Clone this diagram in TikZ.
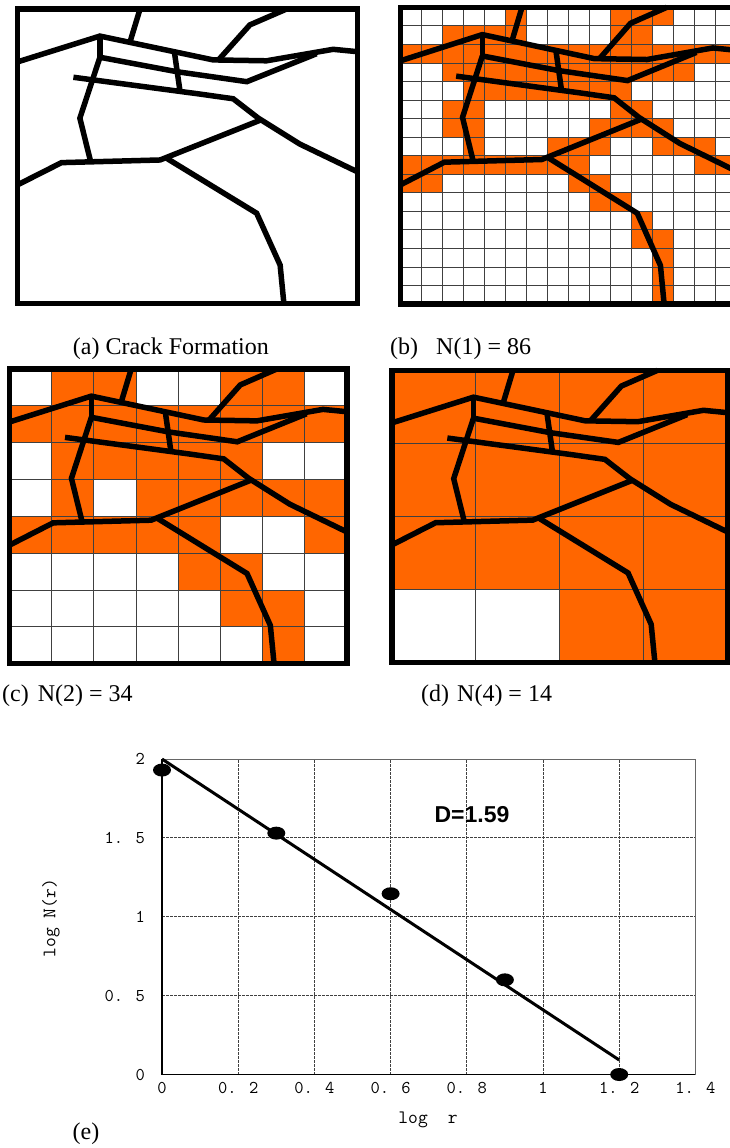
\documentclass[tikz,border=0pt]{standalone}
\usepackage{fontspec}
\setmainfont{Liberation Serif}
\newfontfamily\sansbold{Liberation Sans}
\definecolor{crackorange}{RGB}{255,102,0}
\tikzset{
  crack/.style={line width=5.5pt, line join=miter},
  panelframe/.style={line width=5.5pt},
  cell/.style={fill=crackorange},
  gridthin/.style={line width=0.8pt, draw=black!75},
  caption/.style={font=\fontsize{24}{28}\selectfont, inner sep=0pt, anchor=base west},
  ticklab/.style={font=\ttfamily\fontsize{18}{20}\selectfont, inner sep=0pt},
  axislab/.style={font=\ttfamily\fontsize{19}{21}\selectfont, inner sep=0pt},
  plotgrid/.style={dash pattern=on 2.5pt off 1.5pt, line width=0.8pt, draw=black!75},
}
\newcommand{\drawcracks}{%
  \draw[crack] (0,0.18) -- (0.243,0.092) -- (0.576,0.173) -- (0.733,0.176) -- (0.929,0.137) -- (1,0.145);
  \draw[crack] (0.331,0.114) -- (0.361,0);
  \draw[crack] (0.591,0.174) -- (0.684,0.054) -- (0.792,0);
  \draw[crack] (0.243,0.092) -- (0.243,0.168);
  \draw[crack] (0.243,0.164) -- (0.469,0.213) -- (0.675,0.247) -- (0.88,0.152);
  \draw[crack] (0.462,0.146) -- (0.478,0.275);
  \draw[crack] (0.165,0.232) -- (0.537,0.289) -- (0.635,0.305) -- (0.709,0.371) -- (0.831,0.459) -- (1,0.553);
  \draw[crack] (0.243,0.164) -- (0.184,0.371) -- (0.216,0.52);
  \draw[crack] (0,0.598) -- (0.130,0.522) -- (0.42,0.513) -- (0.714,0.378);
  \draw[crack] (0.439,0.507) -- (0.704,0.694) -- (0.773,0.870) -- (0.784,1);
}
\begin{document}
\begin{tikzpicture}[x=1pt,y=-1pt]
\clip (0,0) rectangle (730,1148);
\fill[white] (0,0) rectangle (730,1148);

% ---------- panel (a)
\begin{scope}[xshift=17.3pt, yshift=-9pt, x=340pt, y=-294.3pt]
  \drawcracks
  \draw[panelframe] (0,0) rectangle (1,1);
\end{scope}

% ---------- panel (b)  16 x 16
\begin{scope}[xshift=400.7pt, yshift=-7.3pt, x=21pt, y=-18.544pt]
  \foreach \r/\cs in {0/{5,10,11,12}, 1/{2,3,4,5,10,11},
      2/{0,1,2,3,4,5,6,7,8,9,10,11,12,13,14,15},
      3/{2,3,4,5,6,7,8,9,10,11,12,13},
      4/{3,4,5,6,7,8,9,10}, 5/{2,3,10,11}, 6/{2,3,9,10,11,12},
      7/{3,7,8,9,12,13,14}, 8/{0,1,2,3,4,5,6,7,8,14,15},
      9/{0,1,8,9}, 10/{9,10}, 11/{11}, 12/{11,12}, 13/{12}, 14/{12}, 15/{12}}
    {\foreach \c in \cs {\fill[cell] (\c,\r) rectangle ++(1,1);}}
  \foreach \i in {1,...,15} {
    \draw[gridthin] (\i,0) -- (\i,16);
    \draw[gridthin] (0,\i) -- (16,\i);
  }
\end{scope}
\begin{scope}[xshift=400.7pt, yshift=-7.3pt, x=336pt, y=-296.7pt]
  \drawcracks
  \draw[panelframe] (0,0) rectangle (1,1);
\end{scope}

% ---------- panel (c)  8 x 8
\begin{scope}[xshift=9.3pt, yshift=-369pt, x=42.2125pt, y=-36.8375pt]
  \foreach \r/\cs in {0/{1,2,5,6}, 1/{0,1,2,3,4,5,6,7}, 2/{1,2,3,4,5},
      3/{1,3,4,5,6,7}, 4/{0,1,2,3,4,7}, 5/{4,5}, 6/{5,6}, 7/{6}}
    {\foreach \c in \cs {\fill[cell] (\c,\r) rectangle ++(1,1);}}
  \foreach \i in {1,...,7} {
    \draw[gridthin] (\i,0) -- (\i,8);
    \draw[gridthin] (0,\i) -- (8,\i);
  }
\end{scope}
\begin{scope}[xshift=9.3pt, yshift=-369pt, x=337.7pt, y=-294.7pt]
  \drawcracks
  \draw[panelframe] (0,0) rectangle (1,1);
\end{scope}

% ---------- panel (d)  4 x 4
\begin{scope}[xshift=392pt, yshift=-370.3pt, x=83.825pt, y=-73pt]
  \fill[cell] (0,0) rectangle (4,3);
  \fill[cell] (2,3) rectangle (4,4);
  \foreach \i in {1,2,3} {
    \draw[gridthin] (\i,0) -- (\i,4);
    \draw[gridthin] (0,\i) -- (4,\i);
  }
\end{scope}
\begin{scope}[xshift=392pt, yshift=-370.3pt, x=335.3pt, y=-292pt]
  \drawcracks
  \draw[panelframe] (0,0) rectangle (1,1);
\end{scope}

% ---------- captions
\node[caption] (capa) at (72.7,354) {(a) Crack Formation};
\node[caption] (capb) at (390,354) {(b)\hspace{18pt}N(1) = 86};
\node[caption] (capc) at (2,701) {(c)\hspace{9pt}N(2) = 34};
\node[caption] (capd) at (421,701) {(d)\hspace{8pt}N(4) = 14};

% ---------- plot (e)
\begin{scope}[xshift=162pt, yshift=-1074.5pt, x=381pt, y=157.75pt]
  \foreach \gx in {0.2,0.4,0.6,0.8,1.0,1.2}
    \draw[plotgrid] (\gx,0) -- (\gx,2);
  \foreach \gy in {0.5,1.0,1.5}
    \draw[plotgrid] (0,\gy) -- (1.4,\gy);
  \draw[black!60, line width=1pt] (0,2) -- (1.4,2) -- (1.4,0);
  \draw[line width=1.2pt] (0,2) -- (0,0) -- (1.4,0);
  \draw[line width=3pt] (0,2) -- (1.2,0.092);
  \foreach \px/\py in {0/1.93, 0.3/1.53, 0.6/1.146, 0.9/0.6, 1.2/0}
    \fill (\px,\py) ellipse [x radius=9pt, y radius=6.5pt];
  \foreach \v/\t [count=\k] in {0/0, 0.5/0. 5, 1/1, 1.5/1. 5, 2/2}
    \node[ticklab, anchor=east] (ylab\k) at ([xshift=-17pt]0,\v) {\t};
  \foreach \v/\t [count=\k] in {0/0, 0.2/0. 2, 0.4/0. 4, 0.6/0. 6, 0.8/0. 8, 1/1, 1.2/1. 2, 1.4/1. 4}
    \node[ticklab, anchor=north] (xlab\k) at ([yshift=-8pt]\v,0) {\t};
\end{scope}
\node[axislab, rotate=90] (ylabel) at (51,918) {log N(r)};
\node[axislab] (xlabel) at (428,1120) {log\hspace{20pt}r};
\node[font=\sansbold\bfseries\fontsize{23}{26}\selectfont, inner sep=0pt] (dval) at (472,815) {D=1.59};
\node[font=\fontsize{24}{28}\selectfont, inner sep=0pt] (cape) at (86,1134) {(e)};
\end{tikzpicture}
\end{document}
